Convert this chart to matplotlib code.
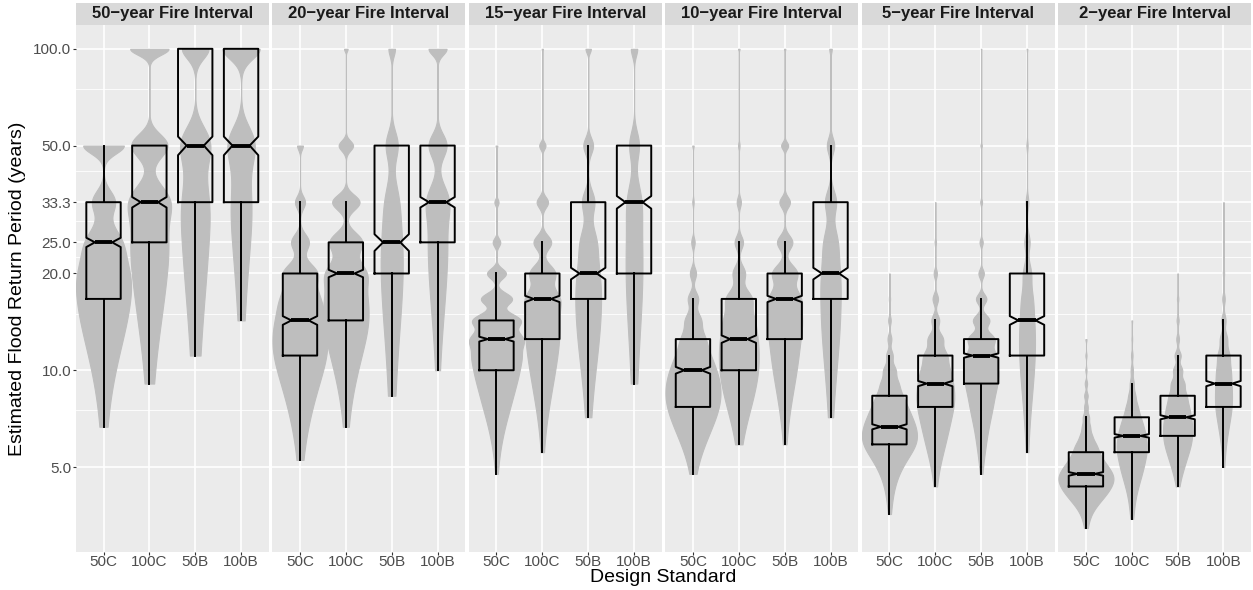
import numpy as np
import matplotlib.pyplot as plt
from matplotlib.patches import Rectangle
from matplotlib.ticker import NullFormatter

plt.rcParams["font.family"] = ["Liberation Sans", "DejaVu Sans"]

FIRE_LABELS = [
    "50\u2212year Fire Interval",
    "20\u2212year Fire Interval",
    "15\u2212year Fire Interval",
    "10\u2212year Fire Interval",
    "5\u2212year Fire Interval",
    "2\u2212year Fire Interval",
]
DESIGNS = ["50C", "100C", "50B", "100B"]

# possible return periods in a 100-year run (100/k years, k = 1, 2, ...)
RETURN_PERIODS = [100, 50, 33.33, 25, 20, 16.67, 14.29, 12.5, 11.11, 10,
                  9.09, 8.33, 7.69, 7.14, 6.67, 6.25, 5.88, 5.56, 5.26, 5.0,
                  4.76, 4.55, 4.35, 4.17, 4.0, 3.85, 3.70, 3.57, 3.45, 3.33, 3.23]
N_RUNS = 1000

Y_BREAKS = [5, 10, 20, 25, 33.33, 50, 100]
Y_MINOR = [7.5, 15, 22.5, 29.17, 41.67, 75]

# number of runs giving each return period (index 0 -> 100 yr, 1 -> 50 yr, ...)
counts_50yr = [
    [0, 408, 230, 316, 334, 223, 150, 95, 56, 35, 21, 12, 6, 3, 1],
    [578, 546, 588, 367, 208, 126, 77, 48, 27, 14, 4],
    [656, 720, 500, 240, 146, 92, 58, 35, 12],
    [944, 672, 375, 173, 92, 43, 10],
]
counts_20yr = [
    [0, 30, 52, 92, 170, 157, 146, 124, 100, 66, 46, 29, 21, 14, 10, 7, 4, 2, 1],
    [22, 90, 171, 202, 229, 166, 140, 90, 55, 35, 20, 12, 7, 4, 2],
    [115, 211, 211, 200, 133, 86, 56, 38, 25, 15, 7, 2],
    [262, 262, 315, 180, 104, 63, 37, 19, 9, 2],
]
counts_15yr = [
    [0, 5, 12, 22, 55, 90, 135, 135, 102, 76, 54, 38, 27, 18, 12, 8, 5, 3, 2, 1, 1],
    [6, 32, 58, 90, 128, 157, 116, 87, 62, 42, 29, 20, 13, 8, 5, 3, 1, 1],
    [60, 110, 140, 165, 150, 130, 80, 60, 44, 27, 18, 8, 4, 1],
    [130, 200, 260, 167, 117, 80, 54, 38, 22, 10, 2],
]
counts_10yr = [
    [0, 4, 4, 10, 18, 30, 44, 57, 62, 69, 66, 58, 47, 36, 25, 18, 12, 8, 4, 2, 1],
    [6, 6, 17, 34, 50, 98, 94, 87, 72, 59, 43, 32, 22, 14, 9, 5, 1],
    [6, 32, 48, 70, 112, 129, 108, 72, 50, 36, 25, 15, 10, 6, 4, 2, 1],
    [25, 74, 112, 124, 117, 86, 55, 45, 30, 20, 12, 7, 4, 1],
]
counts_5yr = [
    [0, 0, 0, 0, 1, 2, 4, 6, 10, 18, 23, 28, 33, 35, 36, 35, 30, 22, 14, 10, 6, 4, 3, 2, 1, 1, 1, 1],
    [0, 0, 1, 3, 7, 12, 17, 32, 44, 45, 46, 41, 35, 24, 20, 14, 11, 8, 5, 3, 2, 1, 1],
    [1, 3, 4, 7, 12, 23, 36, 56, 56, 53, 43, 28, 22, 15, 10, 7, 5, 4, 2, 1, 1],
    [4, 7, 15, 30, 44, 51, 46, 40, 31, 22, 17, 11, 7, 5, 3, 2, 1, 1],
]
counts_2yr = [
    [0, 0, 0, 0, 0, 0, 0, 1, 1, 1, 2, 3, 3, 5, 6, 8, 12, 14, 16, 19, 21, 20, 17, 13, 10, 6, 4, 2, 1, 1, 1],
    [0, 0, 0, 0, 0, 0, 1, 1, 2, 3, 5, 8, 12, 15, 18, 19, 18, 16, 13, 10, 8, 6, 4, 3, 2, 1, 1, 1, 1],
    [0, 0, 0, 0, 1, 2, 3, 4, 9, 13, 18, 21, 23, 23, 22, 20, 16, 12, 8, 6, 3, 2, 1],
    [0, 0, 1, 1, 3, 6, 10, 17, 25, 25, 23, 20, 18, 12, 8, 5, 3, 1, 1, 1],
]

# box statistics (years): lower whisker, Q1, median, Q3, upper whisker
box_50yr = [(6.67, 16.67, 25, 33.33, 50), (9.09, 25, 33.33, 50, 50),
            (11.11, 33.33, 50, 100, 100), (14.29, 33.33, 50, 100, 100)]
box_20yr = [(5.26, 11.11, 14.29, 20, 33.33), (6.67, 14.29, 20, 25, 33.33),
            (8.33, 20, 25, 50, 50), (10, 25, 33.33, 50, 50)]
box_15yr = [(4.76, 10, 12.5, 14.29, 20), (5.56, 12.5, 16.67, 20, 25),
            (7.14, 16.67, 20, 33.33, 50), (9.09, 20, 33.33, 50, 50)]
box_10yr = [(4.76, 7.69, 10, 12.5, 16.67), (5.88, 10, 12.5, 16.67, 25),
            (5.88, 12.5, 16.67, 20, 25), (7.14, 16.67, 20, 33.33, 50)]
box_5yr = [(3.57, 5.88, 6.67, 8.33, 11.11), (4.35, 7.69, 9.09, 11.11, 14.29),
           (4.76, 9.09, 11.11, 12.5, 16.67), (5.56, 11.11, 14.29, 20, 33.33)]
box_2yr = [(3.23, 4.35, 4.76, 5.56, 7.14), (3.45, 5.56, 6.25, 7.14, 9.09),
           (4.35, 6.25, 7.14, 8.33, 11.11), (5.0, 7.69, 9.09, 11.11, 14.29)]

COUNTS = [counts_50yr, counts_20yr, counts_15yr, counts_10yr, counts_5yr, counts_2yr]
BOXES = [box_50yr, box_20yr, box_15yr, box_10yr, box_5yr, box_2yr]

PANEL_BG = "#EBEBEB"
STRIP_BG = "#D9D9D9"
VIOLIN = "#BEBEBE"


def violin_density(counts):
    vals = np.array(RETURN_PERIODS[:len(counts)], dtype=float)
    c = np.array(counts, dtype=float)
    data = np.repeat(vals, counts)
    q75, q25 = np.percentile(data, [75, 25])
    bw = 0.9 * min(data.std(ddof=1), (q75 - q25) / 1.34) * N_RUNS ** -0.2
    y = np.linspace(data.min(), data.max(), 512)
    z = (y[:, None] - vals[None, :]) / bw
    dens = (c[None, :] * np.exp(-0.5 * z ** 2)).sum(axis=1) / bw
    return y, dens


W, H = 1253, 590
left_px, right_px, top_px, bottom_px = 76, 1251, 25, 552
gap_px = 3.9
panel_w = (right_px - left_px - 5 * gap_px) / 6
panel_h = bottom_px - top_px
strip_h = 22

fig = plt.figure(figsize=(W / 100, H / 100), dpi=100)
fig.patch.set_facecolor("white")

positions = np.arange(1, len(DESIGNS) + 1)

for i, (label, counts, boxes) in enumerate(zip(FIRE_LABELS, COUNTS, BOXES)):
    x0 = left_px + i * (panel_w + gap_px)
    ax = fig.add_axes([x0 / W, 1 - bottom_px / H, panel_w / W, panel_h / H])
    ax.set_facecolor(PANEL_BG)
    ax.set_yscale("log")
    ax.set_ylim(2.72, 118.6)
    ax.set_xlim(0.4, 4.6)
    for s in ax.spines.values():
        s.set_visible(False)

    # grid
    ax.set_axisbelow(True)
    ax.set_yticks(Y_BREAKS)
    ax.set_yticks(Y_MINOR, minor=True)
    ax.yaxis.set_minor_formatter(NullFormatter())
    ax.set_xticks(positions)
    ax.grid(which="major", color="white", lw=1.2)
    ax.grid(which="minor", axis="y", color="white", lw=0.6)

    # violins
    profiles = [violin_density(c) for c in counts]
    dmax = max(d.max() for _, d in profiles)
    for pos, (y, d) in zip(positions, profiles):
        w = 0.6 * d / dmax
        ax.fill_betweenx(y, pos - w, pos + w, facecolor=VIOLIN, edgecolor=VIOLIN,
                         lw=0.8, zorder=2)

    # notched boxplots
    stats = []
    for lo, q1, med, q3, hi in boxes:
        notch = 1.58 * (q3 - q1) / np.sqrt(N_RUNS)
        stats.append(dict(whislo=lo, q1=q1, med=med, q3=q3, whishi=hi,
                          cilo=med - notch, cihi=med + notch, fliers=[]))
    ax.bxp(stats, positions=positions, widths=0.75, shownotches=True,
           showcaps=False, showfliers=False, manage_ticks=False,
           boxprops=dict(color="black", lw=1.4),
           whiskerprops=dict(color="black", lw=1.4),
           medianprops=dict(color="black", lw=2.8, solid_capstyle="butt"),
           zorder=3)

    ax.set_xticklabels(DESIGNS)
    ax.tick_params(axis="x", which="major", length=2, width=0.8, color="#333333",
                   labelcolor="#4D4D4D", labelsize=11, pad=0.5)
    ax.tick_params(axis="y", which="minor", length=0)
    if i == 0:
        ax.set_yticklabels([f"{v:.1f}" for v in Y_BREAKS])
        ax.tick_params(axis="y", which="major", length=2, width=0.8, color="#333333",
                       labelcolor="#4D4D4D", labelsize=11, pad=1.5)
    else:
        ax.tick_params(axis="y", which="major", length=0, labelleft=False)

    # facet strip
    ax.add_patch(Rectangle((0, 1), 1, strip_h / panel_h, transform=ax.transAxes,
                           facecolor=STRIP_BG, edgecolor="none", clip_on=False))
    ax.text(0.5, 1 + strip_h / panel_h / 2, label, transform=ax.transAxes,
            ha="center", va="center", fontsize=12, fontweight="bold", color="#1A1A1A")

fig.text((left_px + right_px) / 2 / W, 1 - 578 / H, "Design Standard",
         ha="center", va="center", fontsize=14, color="black")
fig.text(17.5 / W, 1 - (top_px + bottom_px) / 2 / H,
         "Estimated Flood Return Period (years)", rotation=90,
         ha="center", va="center", fontsize=14, color="black")

fig.savefig("out.png", dpi=100)
